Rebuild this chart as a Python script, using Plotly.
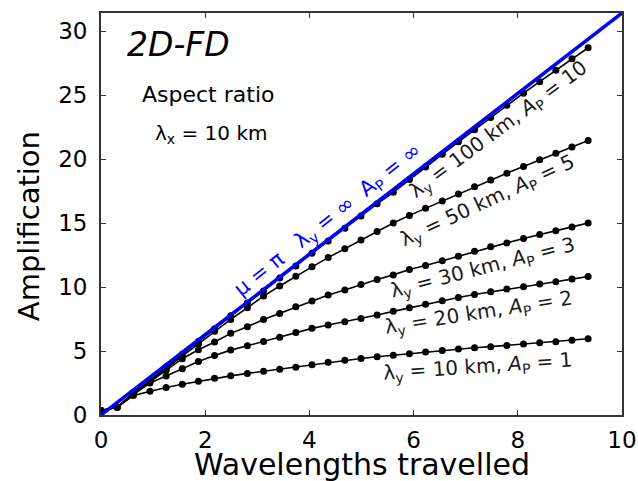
import plotly.graph_objects as go

# Propagation distance, in wavelengths travelled
wavelengths = [0.00, 0.31, 0.62, 0.94, 1.25, 1.56, 1.87, 2.18, 2.49, 2.81,
               3.12, 3.43, 3.74, 4.05, 4.36, 4.68, 4.99, 5.30, 5.61, 5.92,
               6.23, 6.55, 6.86, 7.17, 7.48, 7.79, 8.11, 8.42, 8.73, 9.04, 9.35]

# Amplification for each lambda_y (aspect ratio A_P)
amp_ap1 = [0.35, 0.60, 1.52, 1.85, 2.15, 2.40, 2.64, 2.88, 3.06, 3.25,
           3.42, 3.57, 3.74, 3.93, 4.12, 4.28, 4.42, 4.55, 4.67, 4.79,
           4.92, 5.05, 5.15, 5.25, 5.34, 5.44, 5.54, 5.64, 5.73, 5.84, 5.96]
amp_ap2 = [0.35, 0.60, 1.60, 2.50, 3.05, 3.62, 4.18, 4.65, 5.07, 5.41,
           5.74, 6.07, 6.45, 6.77, 7.03, 7.28, 7.55, 7.81, 8.10, 8.38,
           8.66, 8.92, 9.18, 9.42, 9.63, 9.84, 10.03, 10.23, 10.42, 10.62, 10.82]
amp_ap3 = [0.35, 0.60, 1.65, 2.60, 3.50, 4.40, 5.10, 5.70, 6.38, 6.89,
           7.47, 7.94, 8.45, 8.90, 9.37, 9.76, 10.20, 10.59, 10.95, 11.37,
           11.69, 12.05, 12.41, 12.80, 13.14, 13.45, 13.79, 14.11, 14.39, 14.70, 15.00]
amp_ap5 = [0.35, 0.60, 1.70, 2.65, 3.65, 4.60, 5.55, 6.55, 7.47, 8.38,
           9.29, 10.08, 10.85, 11.58, 12.30, 13.00, 13.68, 14.35, 15.00, 15.60,
           16.15, 16.72, 17.28, 17.83, 18.37, 18.90, 19.42, 19.94, 20.45, 20.95, 21.45]
amp_ap10 = [0.35, 0.60, 1.75, 2.70, 3.75, 4.75, 5.75, 6.75, 7.75, 8.75,
            9.70, 10.70, 11.65, 12.65, 13.60, 14.60, 15.55, 16.50, 17.40, 18.40,
            19.38, 20.37, 21.35, 22.30, 23.24, 24.20, 25.15, 26.05, 26.95, 27.84, 28.70]

# Analytic limit mu = pi (lambda_y -> infinity)
limit_x = [0.0, 10.0]
limit_y = [0.0, 31.416]

series = [amp_ap1, amp_ap2, amp_ap3, amp_ap5, amp_ap10]

curve_labels = [
    "λ<sub>y</sub> = 10 km, <i>A</i><sub>P</sub> = 1",
    "λ<sub>y</sub> = 20 km, <i>A</i><sub>P</sub> = 2",
    "λ<sub>y</sub> = 30 km, <i>A</i><sub>P</sub> = 3",
    "λ<sub>y</sub> = 50 km, <i>A</i><sub>P</sub> = 5",
    "λ<sub>y</sub> = 100 km, <i>A</i><sub>P</sub> = 10",
]
label_pos = [(7.24, 3.75, -4), (7.26, 7.95, -9), (7.34, 11.50, -14.5),
             (7.42, 16.70, -25), (7.62, 22.30, -36.5)]

x_ticks = [0, 2, 4, 6, 8, 10]
y_ticks = [0, 5, 10, 15, 20, 25, 30]

FONT = "DejaVu Sans"

fig = go.Figure()
for ys in series:
    fig.add_trace(go.Scatter(
        x=wavelengths, y=ys, mode="lines+markers",
        line=dict(color="black", width=1.6),
        marker=dict(color="black", size=7),
        showlegend=False, hoverinfo="skip",
    ))
fig.add_trace(go.Scatter(
    x=limit_x, y=limit_y, mode="lines",
    line=dict(color="#0000ff", width=3.5),
    showlegend=False, hoverinfo="skip",
))

annotations = []
for text, (ax, ay, ang) in zip(curve_labels, label_pos):
    annotations.append(dict(
        x=ax, y=ay, xref="x", yref="y", text=text, showarrow=False,
        textangle=ang, xanchor="center", yanchor="middle",
        font=dict(family=FONT, size=20, color="#1a1a1a"),
    ))
annotations.append(dict(
    x=4.36, y=15.25, xref="x", yref="y",
    text="μ = π&nbsp;&nbsp;&nbsp;λ<sub>y</sub> = ∞&nbsp;&nbsp;A<sub>P</sub> = ∞",
    showarrow=False, textangle=-38.5, xanchor="center", yanchor="middle",
    font=dict(family=FONT, size=21, color="#0000ff"),
))
annotations += [
    dict(x=1.48, y=28.96, xref="x", yref="y", text="<i>2D-FD</i>", showarrow=False,
         xanchor="center", yanchor="middle", font=dict(family=FONT, size=33, color="black")),
    dict(x=2.05, y=25.06, xref="x", yref="y", text="Aspect ratio", showarrow=False,
         xanchor="center", yanchor="middle", font=dict(family=FONT, size=22, color="black")),
    dict(x=2.11, y=21.94, xref="x", yref="y", text="λ<sub>x</sub> = 10 km", showarrow=False,
         xanchor="center", yanchor="middle", font=dict(family=FONT, size=20, color="black")),
    dict(x=-0.138, y=0.47, xref="paper", yref="paper", text="Amplification", showarrow=False,
         textangle=-90, xanchor="center", yanchor="middle",
         font=dict(family=FONT, size=29, color="black")),
    dict(x=0.5, y=-0.122, xref="paper", yref="paper", text="Wavelengths travelled",
         showarrow=False, xanchor="center", yanchor="middle",
         font=dict(family=FONT, size=30, color="black")),
]

axis_common = dict(
    showgrid=False, zeroline=False, showline=True, linecolor="#333333", linewidth=1.8,
    mirror="ticks", ticks="inside", ticklen=5, tickwidth=1.3, tickcolor="#333333",
    tickfont=dict(family=FONT, size=23, color="black"), automargin=False,
)

fig.update_layout(
    width=638, height=481,
    margin=dict(l=101, r=16, t=13, b=66, autoexpand=False),
    paper_bgcolor="white", plot_bgcolor="white",
    xaxis=dict(range=[0, 10], tickvals=x_ticks, ticklabelstandoff=3, **axis_common),
    yaxis=dict(range=[0, 31.416], tickvals=y_ticks, ticklabelstandoff=7, **axis_common),
    annotations=annotations,
)

fig.write_html("out.html")
